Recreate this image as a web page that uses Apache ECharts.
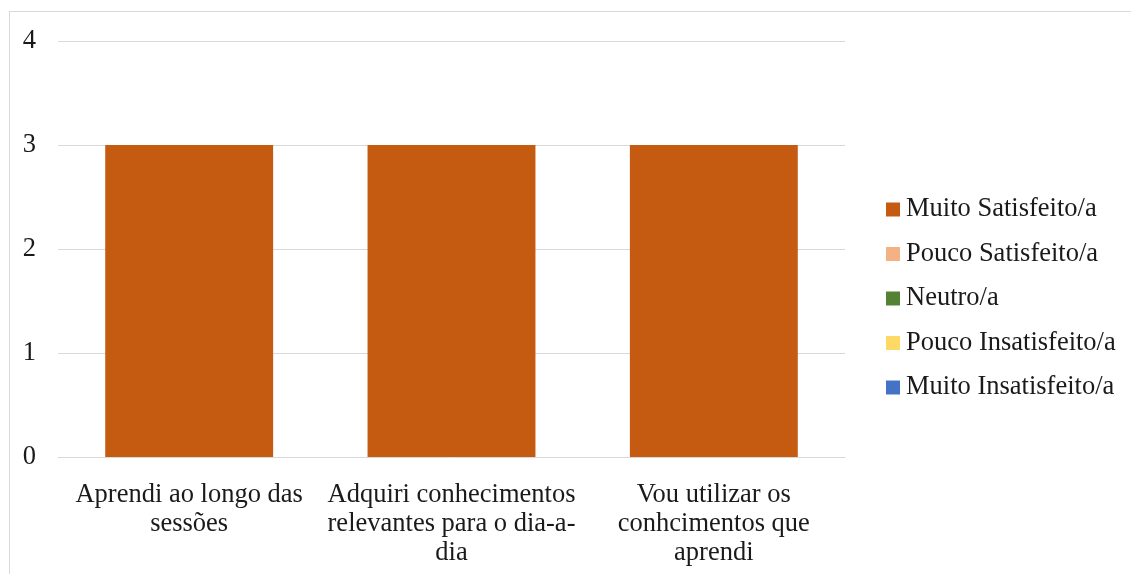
<!DOCTYPE html>
<html>
<head>
<meta charset="utf-8">
<script src="https://cdn.jsdelivr.net/npm/echarts@6/dist/echarts.min.js"></script>
<style>
  html, body { margin: 0; padding: 0; background: #ffffff; }
  #frame { position: absolute; left: 9px; top: 11px; width: 1200px; height: 700px; border: 1px solid #d9d9d9; box-sizing: border-box; }
  #chart { position: absolute; left: 0; top: 0; width: 1131px; height: 574px; }
</style>
</head>
<body>
<div id="frame"></div>
<div id="chart"></div>
<script>
// Survey items (x-axis categories)
const categories = [
  'Aprendi ao longo das\nsessões',
  'Adquiri conhecimentos\nrelevantes para o dia-a-\ndia',
  'Vou utilizar os\nconhcimentos que\naprendi'
];

// Response counts per satisfaction level
const muitoSatisfeito = [3, 3, 3];
const poucoSatisfeito = [0, 0, 0];
const neutro = [0, 0, 0];
const poucoInsatisfeito = [0, 0, 0];
const muitoInsatisfeito = [0, 0, 0];

const seriesNames = ['Muito Satisfeito/a', 'Pouco Satisfeito/a', 'Neutro/a', 'Pouco Insatisfeito/a', 'Muito Insatisfeito/a'];
const seriesData = [muitoSatisfeito, poucoSatisfeito, neutro, poucoInsatisfeito, muitoInsatisfeito];
const colors = ['#C55A11', '#F4B183', '#548235', '#FFD966', '#4472C4'];

const font = 'Liberation Serif';

const chart = echarts.init(document.getElementById('chart'), null, { renderer: 'canvas' });
chart.setOption({
  animation: false,
  color: colors,
  textStyle: { fontFamily: font },
  grid: { left: 58, right: 286, top: 41, bottom: 117, containLabel: false },
  legend: {
    orient: 'vertical',
    left: 881,
    top: 191,
    itemWidth: 14,
    itemHeight: 14,
    itemGap: 17.5,
    icon: 'rect',
    data: seriesNames,
    textStyle: { fontFamily: font, fontSize: 26.5, color: '#1a1a1a', padding: [0, 0, 0, 1] }
  },
  xAxis: {
    type: 'category',
    data: categories,
    axisLine: { show: true, lineStyle: { color: '#d9d9d9', width: 1 } },
    axisTick: { show: false },
    axisLabel: { fontFamily: font, fontSize: 26.5, color: '#1a1a1a', lineHeight: 29, margin: 24, interval: 0 }
  },
  yAxis: {
    type: 'value',
    min: 0,
    max: 4,
    interval: 1,
    axisLine: { show: false },
    axisTick: { show: false },
    splitLine: { lineStyle: { color: '#d9d9d9', width: 1 } },
    axisLabel: { fontFamily: font, fontSize: 26.5, color: '#1a1a1a', margin: 22 }
  },
  series: seriesNames.map((name, i) => ({
    name: name,
    type: 'bar',
    stack: 'total',
    barWidth: '64%',
    data: seriesData[i]
  }))
});
</script>
</body>
</html>
